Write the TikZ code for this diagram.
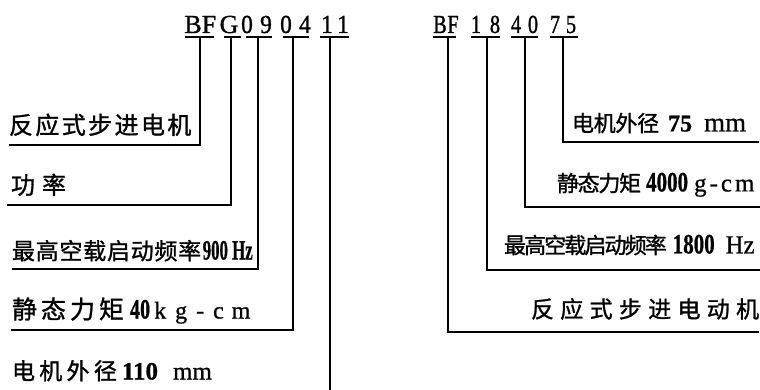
\documentclass[tikz,border=0pt]{standalone}
\usepackage{fontspec}
\usepackage{graphicx}
\setmainfont{Liberation Serif}
\newfontfamily\cjk[FakeBold=1.2]{Noto Sans CJK SC}
\newfontfamily\codefont[FakeBold=1.2]{Liberation Serif}
\newfontfamily\latb[FakeBold=0.8]{Liberation Serif}
\ExplSyntaxOn
\NewDocumentCommand\spcjk{mm}{\tl_map_inline:nn {#2} {##1\hskip #1\relax}\unskip}
\ExplSyntaxOff
\newcommand\cz[3]{{\cjk\fontsize{#1}{#1}\selectfont\spcjk{#2}{#3}}}
\newcommand\lt[2]{{\latb\fontsize{#1}{#1}\selectfont #2}}
\newcommand\cond[3]{\scalebox{#1}[1]{\latb\fontsize{#2}{#2}\selectfont #3}}
\newcommand\rc[1]{\scalebox{0.78}[1]{#1}}
\newcommand\lc[1]{\scalebox{0.9}[1]{#1}}
\tikzset{
  lbl/.style={anchor=base west, inner sep=0pt, outer sep=0pt},
  codech/.style={anchor=base, inner sep=0pt, outer sep=0pt, font=\codefont\fontsize{26}{26}\selectfont},
  conn/.style={line width=1.9pt, line cap=rect, line join=miter},
  uline/.style={line width=1.9pt}
}
\begin{document}
\begin{tikzpicture}[x=1pt,y=-1pt]
\useasboundingbox (0,0) rectangle (760,390);
% ---------- left code ----------
\node[codech] (cB)  at (193,33) {B};
\node[codech] (cF)  at (209,33) {F};
\node[codech] (cG)  at (229,33) {G};
\node[codech] (c0a) at (247,33) {\lc{0}};
\node[codech] (c9)  at (266,33) {\lc{9}};
\node[codech] (c0b) at (286,33) {\lc{0}};
\node[codech] (c4)  at (305,33) {\lc{4}};
\node[codech] (c1a) at (327,33) {\lc{1}};
\node[codech] (c1b) at (343,33) {\lc{1}};
% underlines
\coordinate (la1) at (185,37); \coordinate (lb1) at (214,37);
\coordinate (la2) at (224,37); \coordinate (lb2) at (241,37);
\coordinate (la3) at (246,37); \coordinate (lb3) at (272,37);
\coordinate (la4) at (283,37); \coordinate (lb4) at (309,37);
\coordinate (la5) at (320,37); \coordinate (lb5) at (349,37);
\foreach \i in {1,...,5} \draw[uline] (la\i) -- (lb\i);
% stems
\coordinate (ls1) at (200,37);
\coordinate (ls2) at (231,37);
\coordinate (ls3) at (258,37);
\coordinate (ls4) at (293,37);
\coordinate (ls5) at (330,37);
% label line ends
\coordinate (le1) at (10,145);
\coordinate (le2) at (8,205);
\coordinate (le3) at (13,269);
\coordinate (le4) at (12,330);
\coordinate (le5) at (330,393);
\draw[conn] (ls1) |- (le1);
\draw[conn] (ls2) |- (le2);
\draw[conn] (ls3) |- (le3);
\draw[conn] (ls4) |- (le4);
\draw[conn] (ls5) -- (le5);
% left labels
\node[lbl] (L1) at (9,134) {\cz{24}{2.4pt}{反应式步进电机}};
\node[lbl] (L2) at (11,194) {\cz{24}{7pt}{功率}};
\node[lbl] (L3) at (12,259.5) {\cz{23}{0.75pt}{最高空载启动频率}\hskip1.5pt\cond{0.6}{28}{\bfseries 900 Hz}};
\node[lbl] (L4) at (12,318.5) {\cz{25}{4pt}{静态力矩}\hskip6pt\cond{0.72}{28}{\bfseries 40}\hskip4pt\lt{24}{k\hskip9pt g\hskip9pt -\hskip9pt c\hskip8pt m}};
\node[lbl] (L5) at (12,379.5) {\cz{23}{4.3pt}{电机外径}\hskip5pt\lt{25}{\bfseries 110}\hskip15pt\lt{25}{mm}};
% ---------- right code ----------
\node[codech] (rB)  at (440,33) {\rc{B}};
\node[codech] (rF)  at (453,33) {\rc{F}};
\node[codech] (r1)  at (476,33) {\rc{1}};
\node[codech] (r8)  at (495,33) {\rc{8}};
\node[codech] (r4)  at (516,33) {\rc{4}};
\node[codech] (r0)  at (533,33) {\rc{0}};
\node[codech] (r7)  at (555,33) {\rc{7}};
\node[codech] (r5)  at (571,33) {\rc{5}};
\coordinate (ra1) at (433,37); \coordinate (rb1) at (456,37);
\coordinate (ra2) at (471,37); \coordinate (rb2) at (500,37);
\coordinate (ra3) at (511,37); \coordinate (rb3) at (538,37);
\coordinate (ra4) at (550,37); \coordinate (rb4) at (578,37);
\foreach \i in {1,...,4} \draw[uline] (ra\i) -- (rb\i);
\coordinate (rs1) at (448,37);
\coordinate (rs2) at (487,37);
\coordinate (rs3) at (525,37);
\coordinate (rs4) at (563,37);
\coordinate (re1) at (758,142);
\coordinate (re2) at (760,207);
\coordinate (re3) at (760,270);
\coordinate (re4) at (758,332);
\draw[conn] (rs4) |- (re1);
\draw[conn] (rs3) |- (re2);
\draw[conn] (rs2) |- (re3);
\draw[conn] (rs1) |- (re4);
% right labels
\node[lbl] (R1) at (572,131.4) {\cz{22}{-0.3pt}{电机外径}\hskip9pt\lt{24}{\bfseries 75}\hskip12pt\lt{27}{mm}};
\node[lbl] (R2) at (557,191.4) {\cz{22}{-1.3pt}{静态力矩}\hskip5pt\cond{0.75}{28}{\bfseries 4000}\hskip6pt\lt{25}{g\hskip3pt-\hskip3pt c\hskip3pt m}};
\node[lbl] (R3) at (504,253.4) {\cz{22}{-1.9pt}{最高空载启动频率}\hskip6pt\cond{0.75}{28}{\bfseries 1800}\hskip11pt\cond{0.95}{26}{Hz}};
\node[lbl] (R4) at (531,317.7) {\cz{23}{6.3pt}{反应式步进电动机}};
\end{tikzpicture}
\end{document}
